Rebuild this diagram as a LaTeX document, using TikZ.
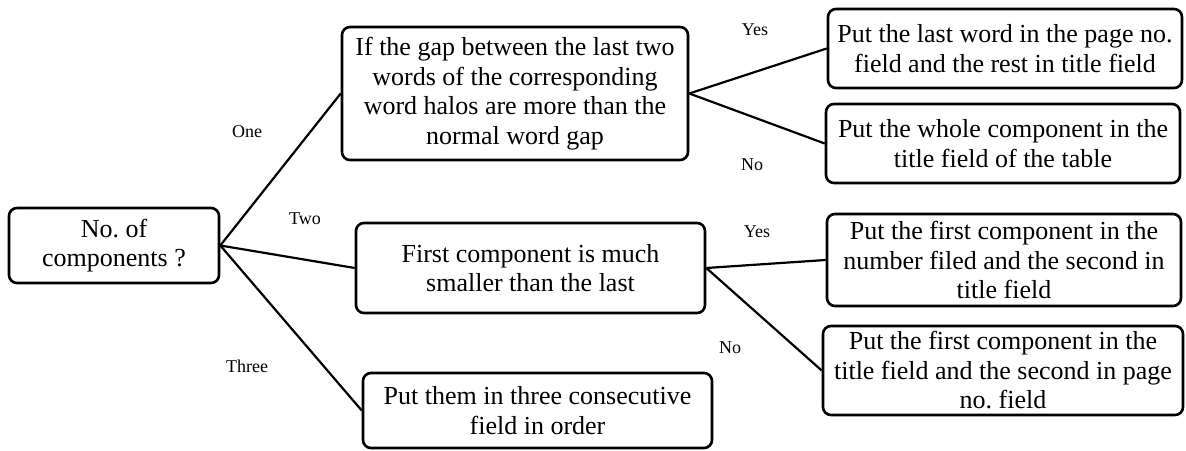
\documentclass[tikz,border=0pt]{standalone}
\usepackage{fontspec}
\setmainfont{Liberation Serif}
\frenchspacing
\usetikzlibrary{positioning}
\tikzset{
  stepbox/.style={draw,rounded corners=8pt,line width=2.6pt,align=center,inner sep=2pt,font=\fontsize{26}{29.5}\selectfont},
  branch/.style={line width=2.2pt},
  choice/.style={font=\fontsize{18}{21}\selectfont}
}

\begin{document}
\begin{tikzpicture}[x=1pt,y=1pt]
    \useasboundingbox (0,0) rectangle (1186,450);
    \node[stepbox,minimum width=210pt,minimum height=75pt] (q) at (114,204.5) {No. of\\components ?};
    \node[stepbox,minimum width=346pt,minimum height=133pt] (g) at (515,356.5) {If the gap between the last two\\words of the corresponding\\word halos are more than the\\normal word gap};
    \node[stepbox,minimum width=354pt,minimum height=79pt] (g1) at (1005,401.5) {Put the last word in the page no.\\field and the rest in title field};
    \node[stepbox,minimum width=354pt,minimum height=79pt] (g2) at (1003,306.5) {Put the whole component in the\\title field of the table};
    \node[stepbox,minimum width=349pt,minimum height=90pt] (f) at (530.5,182) {First component is much\\smaller than the last};
    \node[stepbox,minimum width=354pt,minimum height=92pt] (f1) at (1004,190) {Put the first component in the\\number filed and the second in\\title field};
    \node[stepbox,minimum width=360pt,minimum height=89pt] (f2) at (1003,79.5) {Put the first component in the\\title field and the second in page\\no. field};
    \node[stepbox,minimum width=349pt,minimum height=75pt] (t) at (537.5,39.5) {Put them in three consecutive\\field in order};
    \draw[branch] (q.east)--(g.west);
    \draw[branch] (q.east)--(f.west);
    \draw[branch] (q.east)--(t.west);
    \draw[branch] (g.east)--(g1.west);
    \draw[branch] (g.east)--(g2.west);
    \draw[branch] (f.east)--(f1.west);
    \draw[branch] (f.east)--(f2.west);
    \node[choice] (one) at (247,318) {One};
    \node[choice] (two) at (305,231) {Two};
    \node[choice] (three) at (247,84) {Three};
    \node[choice] (gyes) at (755,420) {Yes};
    \node[choice] (gno) at (752,285) {No};
    \node[choice] (fyes) at (757,218) {Yes};
    \node[choice] (fno) at (730,102) {No};
  \end{tikzpicture}
\end{document}
